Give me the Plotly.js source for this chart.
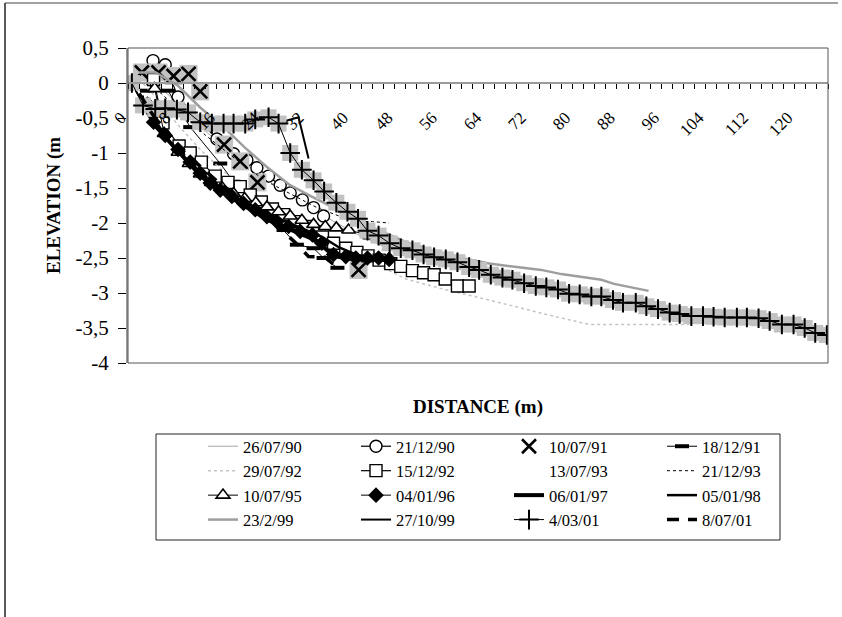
<!DOCTYPE html>
<html><head><meta charset="utf-8">
<script src="https://cdn.plot.ly/plotly-3.0.1.min.js"></script>
<style>html,body{margin:0;padding:0;background:#fff;}#chart{width:842px;height:617px;}</style>
</head><body><div id="chart"></div>
<script>
// ---- data (distance m, elevation m) ----
const names = ['26/07/90','21/12/90','10/07/91','18/12/91','29/07/92','15/12/92','13/07/93','21/12/93',
               '10/07/95','04/01/96','06/01/97','05/01/98','23/2/99','27/10/99','4/03/01','8/07/01'];

const s260790X = [2, 5, 9, 13, 17, 21, 25, 29, 33, 37, 41, 45, 49, 53];
const s260790Y = [0.05, 0.0, -0.3, -0.62, -0.9, -1.15, -1.38, -1.6, -1.8, -1.98, -2.15, -2.3, -2.42, -2.5];

const s211290X = [4.5, 6.7, 9, 13, 16, 19, 21.4, 23.2, 25.3, 27.4, 29.2, 31.4, 33.4, 35.2];
const s211290Y = [0.32, 0.26, -0.2, -0.55, -0.8, -1.01, -1.1, -1.21, -1.33, -1.46, -1.57, -1.67, -1.78, -1.9];

const s100791X = [2.5, 5.5, 8.2, 10.9, 13, 17.3, 20.2, 23.3, 41.5];
const s100791Y = [0.15, 0.15, 0.1, 0.13, -0.12, -0.88, -1.12, -1.42, -2.67];

const s181291X = [3.4, 7.2, 11.2, 16.6, 19, 22, 25, 28, 30.4, 33.4, 35.2, 37.7];
const s181291Y = [-0.11, -0.11, -0.63, -1.15, -1.41, -1.62, -1.85, -2.1, -2.31, -2.36, -2.5, -2.64];

const s290792X = [2, 5, 9, 13, 17, 21, 25, 29, 33, 37, 41, 45, 50, 57, 65, 75, 83, 94, 101];
const s290792Y = [0.05, -0.2, -0.6, -0.95, -1.25, -1.5, -1.7, -1.9, -2.1, -2.28, -2.45, -2.6, -2.8, -2.95, -3.1, -3.3, -3.45, -3.45, -3.45];

const s151292X = [4.6, 6.3, 9.2, 11.2, 13.2, 15.7, 18, 20.2, 22, 24, 26, 28, 30, 32, 35, 37, 39.2, 41.2, 43.2, 45.2, 47.3, 49.1, 51.2, 53.2, 55.1, 57.1, 59.3, 61.4];
const s151292Y = [0.05, -0.57, -0.9, -1.0, -1.13, -1.33, -1.42, -1.48, -1.6, -1.7, -1.8, -1.88, -1.98, -2.05, -2.2, -2.29, -2.36, -2.42, -2.47, -2.53, -2.58, -2.62, -2.68, -2.71, -2.74, -2.8, -2.9, -2.9];

const s130793X = [3, 10, 20, 30, 40];
const s130793Y = [-0.2, -0.8, -1.4, -1.9, -2.3];

const s211293X = [3, 6, 10, 14, 18, 22, 26, 30, 34, 38, 42, 44, 47];
const s211293Y = [0.0, -0.15, -0.45, -0.75, -1.0, -1.25, -1.45, -1.62, -1.78, -1.9, -1.98, -1.98, -2.0];

const s100795X = [4.8, 6.5, 9, 11, 13, 15, 17, 19, 21, 23, 25, 27.1, 29.2, 31.3, 33.4, 35.5, 37.5, 39.7, 43.5];
const s100795Y = [-0.08, -0.72, -0.99, -1.15, -1.3, -1.42, -1.5, -1.58, -1.65, -1.71, -1.77, -1.84, -1.9, -1.96, -2.02, -2.05, -2.07, -2.1, -2.18];

const s040196X = [3.5, 4.6, 6.7, 9, 11.2, 13, 14.8, 16.6, 18.7, 20.8, 22.9, 25, 26.8, 28.9, 31, 33.2, 34.9, 37, 39.2, 41, 43.1, 45.1, 47];
const s040196Y = [-0.3, -0.56, -0.75, -0.95, -1.13, -1.29, -1.43, -1.53, -1.62, -1.72, -1.81, -1.91, -1.98, -2.05, -2.12, -2.17, -2.29, -2.45, -2.48, -2.5, -2.5, -2.5, -2.52];

const s060197X = [3, 5, 7, 9, 11, 13, 15, 17, 19, 21, 23, 25, 27, 29, 31, 33, 35, 37, 39, 41, 43, 45, 47];
const s060197Y = [-0.35, -0.62, -0.8, -0.98, -1.16, -1.32, -1.46, -1.57, -1.66, -1.76, -1.85, -1.95, -2.02, -2.09, -2.16, -2.22, -2.33, -2.47, -2.5, -2.52, -2.52, -2.52, -2.53];

const s050198X = [3, 5, 8, 11, 14, 17, 20, 23, 26, 29, 32, 35, 38, 41, 44];
const s050198Y = [-0.25, -0.55, -0.9, -1.12, -1.35, -1.52, -1.66, -1.78, -1.9, -2.0, -2.1, -2.2, -2.35, -2.45, -2.5];

const s230299X = [2, 5, 9, 13, 17.6, 21, 25, 29, 33, 37, 41, 45, 50, 55, 60, 65, 70, 74.4, 78, 82, 85.2, 87.5, 90, 93.7];
const s230299Y = [0.15, 0.15, -0.04, -0.35, -0.66, -0.92, -1.2, -1.45, -1.62, -1.78, -1.95, -2.1, -2.27, -2.4, -2.5, -2.58, -2.63, -2.67, -2.73, -2.77, -2.81, -2.87, -2.91, -2.97];

const s271099X = [1, 2.7, 4.9, 6.7, 8.8, 10.8, 13, 15.1, 17.2, 19, 21.1, 22.9, 25.3, 28, 30.7, 32.5];
const s271099Y = [-0.05, -0.3, -0.35, -0.36, -0.37, -0.41, -0.55, -0.57, -0.57, -0.58, -0.58, -0.52, -0.5, -0.55, -0.49, -1.08];

const s040301X = [0.7, 2.7, 4.9, 6.7, 8.8, 10.8, 13, 15.1, 17.2, 19, 21.1, 22.9, 25.3, 27.1, 29.2, 31.3, 33.4, 35.3, 37.5, 39.5,
  41.4, 43.1, 45.1, 47.1, 49.1, 51.2, 53.2, 55.1, 57.2, 59.3, 61.4, 63.2, 65.3, 67.4, 69.2, 71.3, 73.4, 75.3, 77.4, 79.4,
  81.3, 83.4, 85.2, 87.3, 89.1, 91.4, 93.3, 95.4, 97.5, 99.3, 101.4, 103.5, 105.4, 107.4, 109.6, 111.4, 113.5, 115.5, 117.7, 119.8,
  121.8, 123.7, 125.8];
const s040301Y = [0, -0.32, -0.37, -0.36, -0.38, -0.42, -0.56, -0.58, -0.58, -0.58, -0.58, -0.52, -0.49, -0.58, -1.0, -1.24, -1.39, -1.55, -1.71, -1.84,
  -1.94, -2.11, -2.18, -2.29, -2.36, -2.39, -2.45, -2.49, -2.52, -2.56, -2.63, -2.67, -2.74, -2.78, -2.81, -2.86, -2.9, -2.92, -2.95, -3.01,
  -3.02, -3.05, -3.05, -3.1, -3.14, -3.14, -3.19, -3.23, -3.28, -3.3, -3.33, -3.33, -3.34, -3.35, -3.35, -3.35, -3.36, -3.4, -3.45, -3.45,
  -3.5, -3.57, -3.6];

const s080701X = [2, 4, 6, 8, 10, 12, 14, 16, 18, 20, 22, 24, 26, 28, 30.4, 32.5, 35.5, 38];
const s080701Y = [-0.15, -0.4, -0.62, -0.82, -0.98, -1.12, -1.26, -1.4, -1.52, -1.64, -1.76, -1.88, -1.98, -2.12, -2.3, -2.48, -2.49, -2.66];

// tick labels
const xTickVals = [0, 8, 16, 24, 32, 40, 48, 56, 64, 72, 80, 88, 96, 104, 112, 120];
const xTickText = ['0','8','16','24','32','40','48','56','64','72','80','88','96','104','112','120'];
const yTickVals = [0.5, 0, -0.5, -1, -1.5, -2, -2.5, -3, -3.5, -4];
const yTickText = ['0,5','0','-0,5','-1','-1,5','-2','-2,5','-3','-3,5','-4'];

// ---- traces ----
const SH = '#c2c2c2';
const traces = [
  {name: names[0], x: s260790X, y: s260790Y, mode: 'lines', line: {color: '#a8a8a8', width: 1}},
  {name: names[1], x: s211290X, y: s211290Y, mode: 'lines+markers', line: {color: '#000', width: 1.2},
   marker: {symbol: 'circle', size: 12, color: '#fff', line: {color: '#000', width: 1.4}}},
  {showlegend: false, hoverinfo: 'skip', x: s100791X, y: s100791Y, mode: 'markers',
   marker: {symbol: 'square', size: 18, color: SH}},
  {name: names[2], x: s100791X, y: s100791Y, mode: 'markers',
   marker: {symbol: 'x-thin', size: 14, color: '#000', line: {color: '#000', width: 2.6}}},
  {name: names[3], x: s181291X, y: s181291Y, mode: 'lines+markers', line: {color: '#000', width: 1},
   marker: {symbol: 'line-ew', size: 10, color: '#000', line: {color: '#000', width: 4}}},
  {name: names[4], x: s290792X, y: s290792Y, mode: 'lines', line: {color: '#c4c4c4', width: 1.5, dash: 'dot'}},
  {name: names[5], x: s151292X, y: s151292Y, mode: 'lines+markers', line: {color: '#000', width: 1.2},
   marker: {symbol: 'square', size: 12, color: '#fff', line: {color: '#000', width: 1.4}}},
  {name: names[6], x: s130793X, y: s130793Y, mode: 'lines', line: {color: 'rgba(255,255,255,0)', width: 1}},
  {name: names[7], x: s211293X, y: s211293Y, mode: 'lines', line: {color: '#000', width: 1, dash: 'dot'}},
  {name: names[8], x: s100795X, y: s100795Y, mode: 'lines+markers', line: {color: '#000', width: 1},
   marker: {symbol: 'triangle-up', size: 12, color: '#fff', line: {color: '#000', width: 1.6}}},
  {name: names[9], x: s040196X, y: s040196Y, mode: 'lines+markers', line: {color: '#000', width: 1},
   marker: {symbol: 'diamond', size: 12, color: '#000'}},
  {name: names[10], x: s060197X, y: s060197Y, mode: 'lines', line: {color: '#000', width: 4}},
  {name: names[11], x: s050198X, y: s050198Y, mode: 'lines', line: {color: '#000', width: 2.5}},
  {name: names[12], x: s230299X, y: s230299Y, mode: 'lines', line: {color: '#9e9e9e', width: 2.5}},
  {name: names[13], x: s271099X, y: s271099Y, mode: 'lines', line: {color: '#000', width: 2}},
  {showlegend: false, hoverinfo: 'skip', x: s040301X, y: s040301Y, mode: 'markers',
   marker: {symbol: 'square', size: 16, color: SH}},
  {name: names[14], x: s040301X, y: s040301Y, mode: 'lines+markers', line: {color: '#000', width: 1},
   marker: {symbol: 'cross-thin', size: 14, color: '#000', line: {color: '#000', width: 2}}},
  {name: names[15], x: s080701X, y: s080701Y, mode: 'lines', line: {color: '#000', width: 3.5, dash: '12px,9px'}}
];

const FONT = '"Liberation Serif", "Times New Roman", Times, serif';
const y0frac = 4 / 4.5;
const PX = v => (v - 128) / 700;          // page px -> paper x
const PY = v => (363 - v) / 315;          // page px -> paper y

const layout = {
  width: 842, height: 617,
  margin: {l: 128, r: 14, t: 48, b: 254, pad: 0},
  paper_bgcolor: '#fff', plot_bgcolor: '#fff',
  font: {family: FONT, color: '#000', size: 16},
  hovermode: false,
  xaxis: {
    range: [0, 126], anchor: 'free', position: y0frac,
    showline: true, linecolor: '#9a9a9a', linewidth: 2,
    ticks: 'outside', ticklen: 5, tickwidth: 1, tickcolor: '#000',
    tickmode: 'array', tickvals: xTickVals, ticktext: xTickText, tickangle: -45,
    tickfont: {family: FONT, size: 17}, ticklabelstandoff: 12, ticklabelshift: -7,
    minor: {tick0: 0, dtick: 2, ticks: 'outside', ticklen: 5, tickcolor: '#000', tickwidth: 1, showgrid: false},
    showgrid: false, zeroline: false,
    title: {text: 'DISTANCE (m)', font: {family: FONT, size: 19, weight: 'bold'}, standoff: 260}
  },
  xaxis2: {
    overlaying: 'x', anchor: 'free', position: y0frac, range: [0, 126],
    ticks: 'inside', ticklen: 5, tickwidth: 1, tickcolor: '#000', tickmode: 'linear', tick0: 0, dtick: 2,
    showticklabels: false, showline: false, showgrid: false, zeroline: false
  },
  yaxis: {
    range: [-4, 0.5], showline: true, linecolor: '#9a9a9a', linewidth: 2,
    ticks: 'outside', ticklen: 8, tickwidth: 1, tickcolor: '#000',
    tickmode: 'array', tickvals: yTickVals, ticktext: yTickText,
    tickfont: {family: FONT, size: 21}, ticklabelstandoff: 5,
    showgrid: false, zeroline: false,
    title: {text: 'ELEVATION (m', font: {family: FONT, size: 19, weight: 'bold'}, standoff: 10}
  },
  yaxis2: {
    overlaying: 'y', anchor: 'x', side: 'left', range: [-4, 0.5],
    ticks: 'inside', ticklen: 8, tickwidth: 1, tickcolor: '#000',
    tickmode: 'array', tickvals: yTickVals, showticklabels: false,
    showline: false, showgrid: false, zeroline: false
  },
  showlegend: true,
  legend: {
    orientation: 'h', x: PX(203), y: PY(429), xanchor: 'left', yanchor: 'top',
    entrywidth: 108, entrywidthmode: 'pixels', itemwidth: 30,
    bgcolor: 'rgba(0,0,0,0)', borderwidth: 0, font: {family: FONT, size: 16.5},
    traceorder: 'normal', tracegroupgap: 0
  },
  shapes: [
    {type: 'rect', xref: 'paper', yref: 'paper', x0: 0, x1: 1, y0: 0, y1: 1, line: {color: '#555', width: 1}},
    {type: 'rect', xref: 'paper', yref: 'paper', x0: PX(156), x1: PX(780), y0: PY(540), y1: PY(434), line: {color: '#222', width: 1}},
    {type: 'line', xref: 'paper', yref: 'paper', x0: PX(5), x1: PX(5), y0: PY(617), y1: PY(3), line: {color: '#222', width: 1.5}},
    {type: 'line', xref: 'paper', yref: 'paper', x0: PX(5), x1: PX(838), y0: PY(3), y1: PY(3), line: {color: '#444', width: 1}}
  ]
};

Plotly.newPlot('chart', traces, layout, {displayModeBar: false, staticPlot: true});
</script>
</body></html>
